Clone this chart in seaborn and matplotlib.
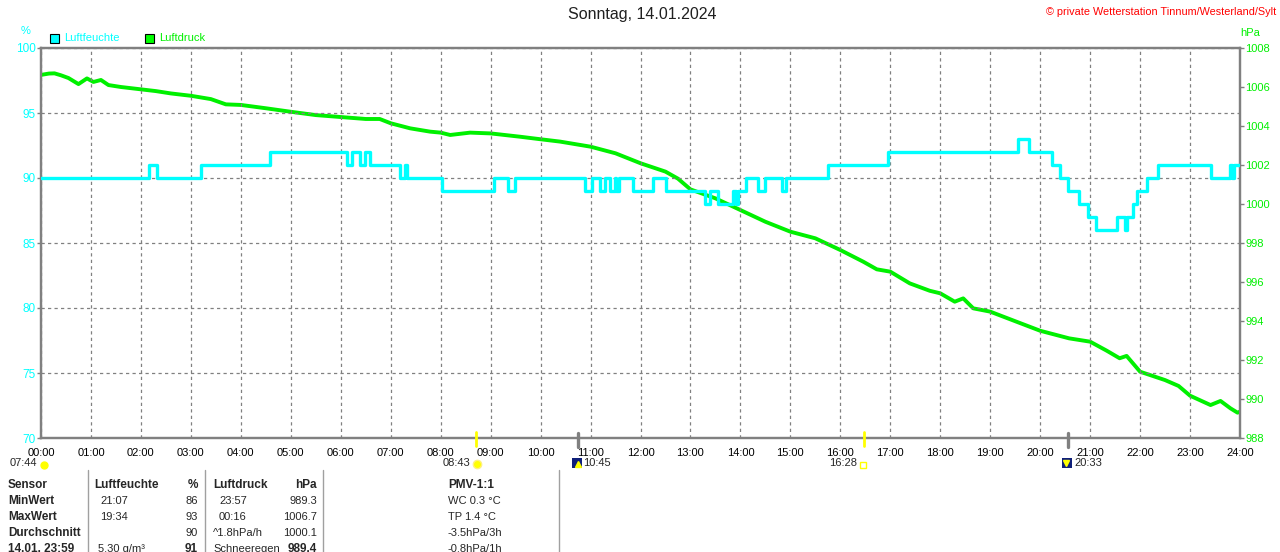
import matplotlib
matplotlib.use("Agg")
import matplotlib.pyplot as plt
import seaborn as sns
import pandas as pd
from matplotlib.patches import Rectangle
from matplotlib.lines import Line2D

# ---------------- data ----------------
hum_time = [0.0, 2.16, 2.33, 3.20, 4.58, 6.13, 6.22, 6.38, 6.48, 6.59, 7.19, 7.29, 7.33,
            8.02, 9.07, 9.35, 9.49, 10.89, 11.02, 11.19, 11.29, 11.39, 11.48, 11.51, 11.56,
            11.84, 12.26, 12.52, 13.29, 13.39, 13.56, 13.86, 13.91, 13.96, 14.12, 14.36,
            14.50, 14.84, 14.91, 15.76, 16.96, 19.56, 19.78, 20.23, 20.40, 20.56, 20.78,
            20.96, 21.12, 21.54, 21.70, 21.74, 21.85, 21.93, 22.13, 22.36, 23.41, 23.79,
            23.83, 23.87, 24.0]
hum_value = [90, 91, 90, 91, 92, 91, 92, 91, 92, 91, 90, 91, 90,
             89, 90, 89, 90, 89, 90, 89, 90, 89, 90, 89, 90,
             89, 90, 89, 88, 89, 88, 89, 88, 89, 90, 89,
             90, 89, 90, 91, 92, 93, 92, 91, 90, 89, 88,
             87, 86, 87, 86, 87, 88, 89, 90, 91, 90, 91,
             90, 91, 91]

press_time = [0.00, 0.16, 0.27, 0.40, 0.55, 0.75, 0.92, 1.05, 1.20, 1.35, 1.60, 2.00, 2.30,
              2.60, 3.00, 3.40, 3.70, 4.00, 4.50, 5.00, 5.50, 6.00, 6.50, 6.78, 7.00, 7.39,
              7.79, 8.00, 8.19, 8.59, 9.00, 9.59, 10.00, 10.39, 11.00, 11.50, 12.00, 12.50,
              12.75, 13.00, 13.50, 14.00, 14.50, 15.00, 15.50, 16.00, 16.46, 16.73, 17.00,
              17.39, 17.79, 18.00, 18.29, 18.46, 18.66, 19.00, 19.53, 20.00, 20.58, 21.00,
              21.33, 21.59, 21.73, 22.00, 22.50, 22.77, 23.00, 23.41, 23.61, 23.81, 23.95, 24.00]
press_value = [1006.62, 1006.69, 1006.70, 1006.60, 1006.46, 1006.15, 1006.44, 1006.26, 1006.36,
               1006.10, 1006.00, 1005.88, 1005.79, 1005.67, 1005.55, 1005.38, 1005.11, 1005.08,
               1004.91, 1004.73, 1004.56, 1004.46, 1004.36, 1004.36, 1004.14, 1003.88, 1003.71,
               1003.66, 1003.54, 1003.66, 1003.62, 1003.45, 1003.32, 1003.20, 1002.94, 1002.60,
               1002.09, 1001.66, 1001.30, 1000.75, 1000.29, 999.69, 999.09, 998.58, 998.24,
               997.64, 997.04, 996.65, 996.53, 995.93, 995.55, 995.42, 994.99, 995.16, 994.65,
               994.48, 993.96, 993.50, 993.11, 992.94, 992.48, 992.09, 992.21, 991.40, 990.97,
               990.67, 990.17, 989.69, 989.90, 989.52, 989.30, 989.35]

hour_labels = ["%02d:00" % h for h in range(25)]
hum_ticks = [70, 75, 80, 85, 90, 95, 100]
press_ticks = [988, 990, 992, 994, 996, 998, 1000, 1002, 1004, 1006, 1008]

sun_times = [8 + 43 / 60, 16 + 28 / 60]
moon_times = [10 + 45 / 60, 20 + 33 / 60]

table_rows = [
    ["Sensor", "Luftfeuchte", "%", "Luftdruck", "hPa", "PMV-1:1"],
    ["MinWert", "21:07", "86", "23:57", "989.3", "WC 0.3 °C"],
    ["MaxWert", "19:34", "93", "00:16", "1006.7", "TP 1.4 °C"],
    ["Durchschnitt", "", "90", "^1.8hPa/h", "1000.1", "-3.5hPa/3h"],
    ["14.01. 23:59", "5.30 g/m³", "91", "Schneeregen", "989.4", "-0.8hPa/1h"],
]

# ---------------- style ----------------
sns.set_style("white")
plt.rcParams["font.family"] = ["Liberation Sans", "DejaVu Sans"]

CYAN = "#00FFFF"
GREEN = "#00F000"
GRAY = "#808080"
W, H = 1280, 552

fig = plt.figure(figsize=(12.8, 5.52), dpi=100)
fig.patch.set_facecolor("white")


def fx(x):
    return x / W


def fy(y):
    return 1 - y / H


ax = fig.add_axes([fx(41), fy(438), 1199 / W, 390 / H])
ax2 = ax.twinx()

df_h = pd.DataFrame({"t": hum_time, "v": hum_value})
df_p = pd.DataFrame({"t": press_time, "v": press_value})

sns.lineplot(data=df_h, x="t", y="v", ax=ax, color=CYAN, linewidth=2.4,
             drawstyle="steps-post", estimator=None, sort=False, zorder=5)
sns.lineplot(data=df_p, x="t", y="v", ax=ax2, color=GREEN, linewidth=2.8,
             estimator=None, sort=False, zorder=4)
ax.set_zorder(ax2.get_zorder() + 1)
ax.patch.set_visible(False)

ax.set_xlim(0, 24)
ax.set_ylim(70, 100)
ax2.set_ylim(988, 1008)
ax.set_xlabel("")
ax.set_ylabel("")
ax2.set_ylabel("")

ax.set_xticks(range(25))
ax.set_xticklabels(hour_labels, fontsize=8, color="black")
ax.set_yticks(hum_ticks)
ax.set_yticklabels([str(v) for v in hum_ticks], fontsize=8.5, color=CYAN)
ax2.set_yticks(press_ticks)
ax2.set_yticklabels([str(v) for v in press_ticks], fontsize=8, color=GREEN)

ax.tick_params(axis="x", length=0, pad=7)
ax.tick_params(axis="y", length=3, width=1, color=GRAY, pad=1, direction="out")
ax2.tick_params(axis="y", length=3, width=1, color=GRAY, pad=1, direction="out")

ax.grid(True, color=GRAY, linestyle=(0, (2.6, 2.6)), linewidth=0.9)
ax2.grid(False)

for a in (ax, ax2):
    for s in a.spines.values():
        s.set_color(GRAY)
        s.set_linewidth(1.6)
        s.set_visible(True)

# sun / moon markers on the axis
for t in sun_times:
    ax.plot([t, t], [69.6, 70.6], transform=ax.get_xaxis_transform(), color="yellow") if False else None
for t in sun_times:
    xp = 41 + t / 24 * 1199
    fig.add_artist(Line2D([fx(xp), fx(xp)], [fy(432), fy(446)], color="#FFFF00", linewidth=2.0))
for t in moon_times:
    xp = 41 + t / 24 * 1199
    fig.add_artist(Line2D([fx(xp), fx(xp)], [fy(433), fy(447)], color=GRAY, linewidth=2.4))

# ---------------- texts ----------------
fig.text(fx(642), fy(15), "Sonntag, 14.01.2024", ha="center", va="center", fontsize=11.5, color="#202020")
fig.text(fx(1276), fy(12), "© private Wetterstation Tinnum/Westerland/Sylt", ha="right", va="center",
         fontsize=7.8, color="#FF0000")
fig.text(fx(26), fy(31), "%", ha="center", va="center", fontsize=8, color=CYAN)
fig.text(fx(1250), fy(33), "hPa", ha="center", va="center", fontsize=8, color=GREEN)

# legend
fig.add_artist(Rectangle((fx(50), fy(43)), 9 / W, 9 / H, facecolor=CYAN, edgecolor="black", linewidth=0.8))
fig.text(fx(64), fy(38), "Luftfeuchte", ha="left", va="center", fontsize=8, color=CYAN)
fig.add_artist(Rectangle((fx(145), fy(43)), 9 / W, 9 / H, facecolor="#00FF00", edgecolor="black", linewidth=0.8))
fig.text(fx(159), fy(38), "Luftdruck", ha="left", va="center", fontsize=8, color=GREEN)

# second row of sun / moon times
fig.text(fx(10), fy(463), "07:44", ha="left", va="center", fontsize=8)
fig.add_artist(Line2D([fx(44)], [fy(465)], marker="o", markersize=5, color="#FFFF00"))
fig.text(fx(470), fy(463), "08:43", ha="right", va="center", fontsize=8)
fig.add_artist(Line2D([fx(477)], [fy(464)], marker="o", markersize=6, color="#FFFF00",
                      markeredgecolor="#FFF080"))
fig.add_artist(Rectangle((fx(572), fy(468)), 10 / W, 10 / H, facecolor="#10207A", edgecolor="none"))
fig.add_artist(Line2D([fx(578)], [fy(464)], marker="^", markersize=4, color="#FFFF00"))
fig.text(fx(583), fy(463), "10:45", ha="left", va="center", fontsize=8)
fig.text(fx(857), fy(463), "16:28", ha="right", va="center", fontsize=8)
fig.add_artist(Line2D([fx(863)], [fy(465)], marker="s", markersize=4, markerfacecolor="white",
                      markeredgecolor="#FFFF00", linestyle="none"))
fig.add_artist(Rectangle((fx(1062), fy(468)), 10 / W, 10 / H, facecolor="#10207A", edgecolor="none"))
fig.add_artist(Line2D([fx(1066)], [fy(463)], marker="v", markersize=4, color="#FFFF00"))
fig.text(fx(1074), fy(463), "20:33", ha="left", va="center", fontsize=8)

# ---------------- table ----------------
for xs in (88, 205, 323, 559):
    fig.add_artist(Line2D([fx(xs), fx(xs)], [fy(470), fy(552)], color="#A0A0A0", linewidth=1))

row_y = [485, 501, 517, 533, 549]
for i, row in enumerate(table_rows):
    y = fy(row_y[i])
    header = i == 0
    last = i == 4
    fig.text(fx(8), y, row[0], ha="left", va="center", fontsize=8.5, fontweight="bold")
    x1 = 94 if header else (98 if last else 100)
    fig.text(fx(x1), y, row[1], ha="left", va="center", fontsize=8.5 if header else 8,
             fontweight="bold" if header else "normal")
    fig.text(fx(198), y, row[2], ha="right", va="center", fontsize=8.5 if (header or last) else 8,
             fontweight="bold" if (header or last) else "normal")
    x3 = 213 if (header or i >= 3) else 219
    fig.text(fx(x3), y, row[3], ha="left", va="center", fontsize=8.5 if header else 8,
             fontweight="bold" if header else "normal")
    fig.text(fx(317), y, row[4], ha="right", va="center", fontsize=8.5 if (header or last) else 8,
             fontweight="bold" if (header or last) else "normal")
    fig.text(fx(448), y, row[5], ha="left", va="center", fontsize=8.5 if header else 8,
             fontweight="bold" if header else "normal")

fig.savefig("out.png", dpi=100, facecolor="white")
